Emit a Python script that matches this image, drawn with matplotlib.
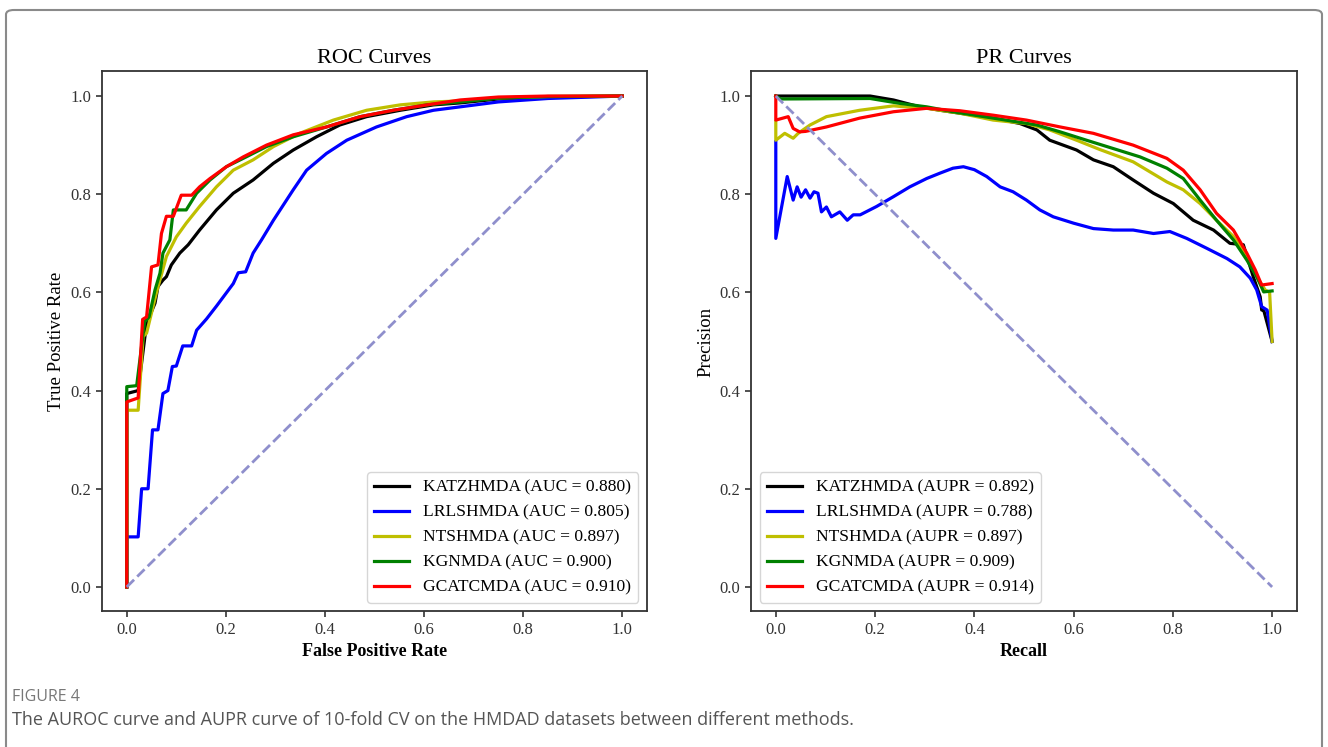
import matplotlib
matplotlib.use("Agg")
import matplotlib.pyplot as plt
from matplotlib.patches import FancyBboxPatch

plt.rcParams['font.family'] = ['Liberation Serif', 'DejaVu Serif']

methods = ['KATZHMDA', 'LRLSHMDA', 'NTSHMDA', 'KGNMDA', 'GCATCMDA']
colors = ['k', 'b', 'y', 'g', 'r']
auc = [0.880, 0.805, 0.897, 0.900, 0.910]
aupr = [0.892, 0.788, 0.897, 0.909, 0.914]

# ROC curves
roc_katz_x = [0, 0, 0.023, 0.04, 0.057, 0.063, 0.073, 0.08, 0.09, 0.107, 0.124, 0.147, 0.181, 0.215, 0.255,
              0.296, 0.336, 0.383, 0.43, 0.484, 0.552, 0.619, 0.673, 0.75, 0.85, 1.0]
roc_katz_y = [0, 0.394, 0.40, 0.537, 0.578, 0.612, 0.625, 0.632, 0.656, 0.68, 0.697, 0.727, 0.768, 0.802, 0.829,
              0.863, 0.89, 0.917, 0.941, 0.958, 0.971, 0.982, 0.986, 0.994, 0.998, 1.0]

roc_lrls_x = [0, 0, 0.023, 0.03, 0.043, 0.052, 0.063, 0.073, 0.083, 0.092, 0.1, 0.113, 0.131, 0.141, 0.161,
              0.181, 0.198, 0.215, 0.225, 0.24, 0.255, 0.272, 0.296, 0.336, 0.363, 0.403, 0.444, 0.504,
              0.565, 0.619, 0.673, 0.75, 0.85, 1.0]
roc_lrls_y = [0, 0.102, 0.102, 0.2, 0.2, 0.32, 0.32, 0.394, 0.40, 0.449, 0.45, 0.491, 0.491, 0.523, 0.546,
              0.572, 0.595, 0.618, 0.64, 0.642, 0.68, 0.707, 0.747, 0.809, 0.849, 0.883, 0.91, 0.937,
              0.958, 0.971, 0.978, 0.988, 0.995, 1.0]

roc_nts_x = [0, 0, 0.023, 0.033, 0.04, 0.06, 0.08, 0.1, 0.12, 0.147, 0.181, 0.215, 0.255, 0.296, 0.349,
             0.417, 0.484, 0.552, 0.619, 0.673, 0.75, 0.85, 1.0]
roc_nts_y = [0, 0.36, 0.36, 0.51, 0.517, 0.60, 0.673, 0.713, 0.741, 0.775, 0.815, 0.849, 0.87, 0.897, 0.924,
             0.951, 0.971, 0.982, 0.988, 0.99, 0.996, 0.999, 1.0]

roc_kgn_x = [0, 0, 0.02, 0.036, 0.045, 0.057, 0.067, 0.073, 0.087, 0.094, 0.12, 0.141, 0.168, 0.201, 0.241,
             0.282, 0.336, 0.403, 0.471, 0.538, 0.606, 0.673, 0.75, 0.85, 1.0]
roc_kgn_y = [0, 0.408, 0.41, 0.54, 0.55, 0.605, 0.639, 0.68, 0.707, 0.768, 0.768, 0.802, 0.829, 0.856, 0.876,
             0.897, 0.917, 0.937, 0.958, 0.971, 0.982, 0.988, 0.996, 0.999, 1.0]

roc_gcat_x = [0, 0, 0.023, 0.032, 0.04, 0.05, 0.063, 0.07, 0.08, 0.094, 0.11, 0.131, 0.147, 0.168, 0.201,
              0.235, 0.282, 0.336, 0.403, 0.471, 0.538, 0.606, 0.673, 0.75, 0.85, 1.0]
roc_gcat_y = [0, 0.377, 0.385, 0.545, 0.55, 0.652, 0.656, 0.72, 0.755, 0.755, 0.798, 0.798, 0.815, 0.832, 0.856,
              0.876, 0.9, 0.921, 0.937, 0.958, 0.971, 0.982, 0.992, 0.998, 1.0, 1.0]

# PR curves
pr_katz_x = [0, 0.19, 0.237, 0.29, 0.331, 0.371, 0.438, 0.492, 0.526, 0.552, 0.606, 0.64, 0.68, 0.72, 0.761,
             0.801, 0.841, 0.882, 0.915, 0.942, 0.962, 0.976, 0.979, 0.983, 1.0]
pr_katz_y = [1.0, 1.0, 0.992, 0.978, 0.971, 0.965, 0.955, 0.944, 0.931, 0.91, 0.89, 0.87, 0.856, 0.829, 0.802,
             0.781, 0.747, 0.727, 0.70, 0.697, 0.632, 0.591, 0.564, 0.564, 0.5]

pr_lrls_x = [0, 0, 0.023, 0.035, 0.043, 0.051, 0.06, 0.069, 0.077, 0.085, 0.092, 0.102, 0.112, 0.129, 0.144,
             0.156, 0.17, 0.203, 0.237, 0.27, 0.304, 0.331, 0.357, 0.378, 0.4, 0.425, 0.452, 0.478, 0.505,
             0.532, 0.559, 0.6, 0.64, 0.68, 0.72, 0.761, 0.794, 0.828, 0.868, 0.909, 0.935, 0.956, 0.969,
             0.979, 0.99, 1.0]
pr_lrls_y = [0.907, 0.71, 0.836, 0.788, 0.815, 0.794, 0.809, 0.792, 0.805, 0.802, 0.764, 0.774, 0.754, 0.764, 0.747,
             0.758, 0.758, 0.775, 0.795, 0.815, 0.832, 0.843, 0.853, 0.856, 0.85, 0.836, 0.815, 0.805, 0.788,
             0.768, 0.754, 0.741, 0.73, 0.727, 0.727, 0.72, 0.724, 0.71, 0.69, 0.669, 0.652, 0.629, 0.605,
             0.571, 0.564, 0.5]

pr_nts_x = [0, 0, 0.018, 0.035, 0.045, 0.069, 0.102, 0.169, 0.237, 0.26, 0.304, 0.371, 0.438, 0.505, 0.552,
            0.606, 0.653, 0.72, 0.788, 0.821, 0.855, 0.888, 0.922, 0.949, 0.969, 0.986, 0.995, 1.0]
pr_nts_y = [0.948, 0.91, 0.924, 0.914, 0.924, 0.941, 0.958, 0.971, 0.98, 0.978, 0.975, 0.965, 0.951, 0.944, 0.931,
            0.91, 0.891, 0.866, 0.825, 0.809, 0.781, 0.747, 0.714, 0.673, 0.632, 0.605, 0.6, 0.5]

pr_kgn_x = [0, 0.01, 0.19, 0.25, 0.304, 0.357, 0.438, 0.526, 0.573, 0.626, 0.68, 0.734, 0.788, 0.821, 0.855,
            0.888, 0.922, 0.949, 0.969, 0.983, 1.0]
pr_kgn_y = [1.0, 0.994, 0.995, 0.985, 0.978, 0.968, 0.955, 0.941, 0.927, 0.91, 0.893, 0.876, 0.853, 0.832, 0.788,
            0.747, 0.707, 0.666, 0.632, 0.601, 0.603]

pr_gcat_x = [0, 0, 0.025, 0.035, 0.048, 0.06, 0.102, 0.169, 0.237, 0.304, 0.371, 0.438, 0.505, 0.573, 0.64,
             0.72, 0.788, 0.821, 0.855, 0.888, 0.922, 0.949, 0.966, 0.979, 1.0]
pr_gcat_y = [1.0, 0.951, 0.958, 0.934, 0.927, 0.928, 0.937, 0.955, 0.968, 0.975, 0.97, 0.961, 0.951, 0.937, 0.924,
             0.9, 0.873, 0.849, 0.809, 0.761, 0.727, 0.68, 0.646, 0.615, 0.618]

roc_curves = [(roc_katz_x, roc_katz_y), (roc_lrls_x, roc_lrls_y), (roc_nts_x, roc_nts_y),
              (roc_kgn_x, roc_kgn_y), (roc_gcat_x, roc_gcat_y)]
pr_curves = [(pr_katz_x, pr_katz_y), (pr_lrls_x, pr_lrls_y), (pr_nts_x, pr_nts_y),
             (pr_kgn_x, pr_kgn_y), (pr_gcat_x, pr_gcat_y)]

ticks = [0.0, 0.2, 0.4, 0.6, 0.8, 1.0]

fig = plt.figure(figsize=(13.28, 7.47), dpi=100)
ax1 = fig.add_axes([0.0768, 0.1814, 0.4104, 0.7229])
ax2 = fig.add_axes([0.5655, 0.1814, 0.4111, 0.7229])

diag = '#8f8fcc'
for i, (x, y) in enumerate(roc_curves):
    ax1.plot(x, y, color=colors[i], lw=2.3, label='%s (AUC = %.3f)' % (methods[i], auc[i]))
ax1.plot([0, 1], [0, 1], '--', color=diag, lw=2)
for i, (x, y) in enumerate(pr_curves):
    ax2.plot(x, y, color=colors[i], lw=2.3, label='%s (AUPR = %.3f)' % (methods[i], aupr[i]))
ax2.plot([0, 1], [1, 0], '--', color=diag, lw=2)

ax1.set_title('ROC Curves', fontsize=16)
ax2.set_title('PR Curves', fontsize=16)
ax1.set_xlabel('False Positive Rate', fontsize=13, fontweight='bold')
ax1.set_ylabel('True Positive Rate', fontsize=13.5)
ax2.set_xlabel('Recall', fontsize=13, fontweight='bold')
ax2.set_ylabel('Precision', fontsize=13.5)

for ax in (ax1, ax2):
    ax.set_xticks(ticks)
    ax.set_yticks(ticks)
    ax.set_xlim(-0.05, 1.05)
    ax.set_ylim(-0.05, 1.05)
    ax.tick_params(labelsize=12, colors='#333333', width=1.2, length=4)
    for s in ax.spines.values():
        s.set_color('#333333')
        s.set_linewidth(1.3)

ax1.legend(loc='lower right', fontsize=12.6, framealpha=0.8)
ax2.legend(loc='lower left', fontsize=12.6, framealpha=0.8)

# outer frame and caption
frame = FancyBboxPatch((6 / 1328, -0.05), 1316 / 1328, 0.05 + 737 / 747,
                       boxstyle='round,pad=0,rounding_size=0.006', transform=fig.transFigure,
                       fill=False, edgecolor='#8a8a8a', linewidth=1.5)
fig.add_artist(frame)
fig.text(12 / 1328, 1 - 697 / 747, 'FIGURE 4', fontsize=11.5, color='#777777',
         family=['Open Sans', 'DejaVu Sans'], va='center')
fig.text(12 / 1328, 1 - 720 / 747,
         'The AUROC curve and AUPR curve of 10-fold CV on the HMDAD datasets between different methods.',
         fontsize=13, color='#555555', family=['Open Sans', 'DejaVu Sans'], va='center')

fig.savefig('out.png', dpi=100)
